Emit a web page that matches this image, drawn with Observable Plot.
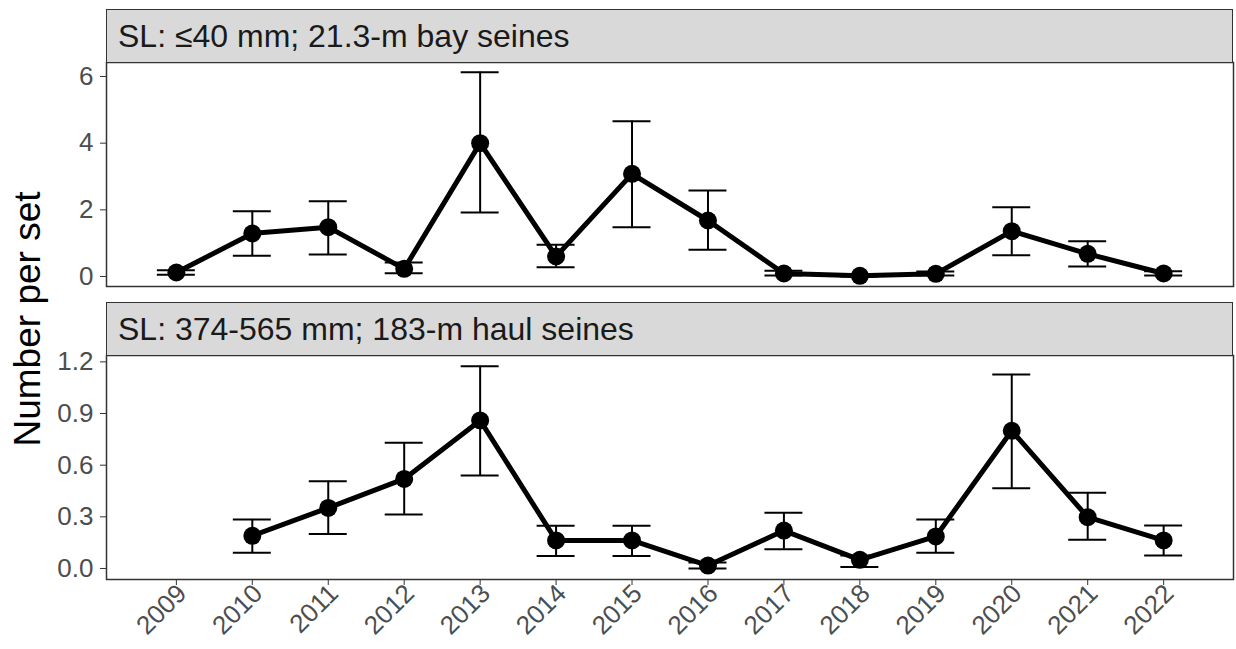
<!DOCTYPE html>
<html>
<head>
<meta charset="utf-8">
<script src="https://cdn.jsdelivr.net/npm/d3@7"></script>
<script src="https://cdn.jsdelivr.net/npm/@observablehq/plot@0.6"></script>
<style>
  html, body { margin: 0; padding: 0; background: #ffffff; }
  #chart { position: relative; width: 1236px; height: 649px; overflow: hidden; font-family: "Liberation Sans", Arial, sans-serif; }
  .panel { position: absolute; left: 0; }
  .strip { position: absolute; background: #d9d9d9; border: 1.5px solid #333333; box-sizing: border-box;
           color: #1a1a1a; font-size: 32px; line-height: 1; display: flex; align-items: center; padding-left: 11px; }
  .ytitle { position: absolute; font-size: 37px; color: #000; white-space: nowrap; transform: translate(-50%, -50%) rotate(-90deg); }
</style>
</head>
<body>
<div id="chart"></div>
<script>
// ---- data ----
const years = [2009, 2010, 2011, 2012, 2013, 2014, 2015, 2016, 2017, 2018, 2019, 2020, 2021, 2022];

const stripSmall = "SL: \u226440 mm; 21.3-m bay seines";
const stripLarge = "SL: 374-565 mm; 183-m haul seines";

const smallMean = [0.12, 1.29, 1.48, 0.23, 4.00, 0.60, 3.08, 1.68, 0.09, 0.02, 0.08, 1.36, 0.68, 0.09];
const smallLow  = [0.05, 0.62, 0.66, 0.10, 1.92, 0.28, 1.48, 0.80, 0.03, 0.00, 0.03, 0.64, 0.30, 0.03];
const smallHigh = [0.19, 1.96, 2.26, 0.42, 6.13, 0.95, 4.66, 2.58, 0.17, 0.05, 0.15, 2.08, 1.06, 0.16];

const largeMean = [null, 0.190, 0.352, 0.520, 0.860, 0.163, 0.163, 0.017, 0.220, 0.050, 0.186, 0.800, 0.298, 0.163];
const largeLow  = [null, 0.091, 0.200, 0.314, 0.540, 0.072, 0.072, 0.000, 0.112, 0.008, 0.091, 0.466, 0.167, 0.075];
const largeHigh = [null, 0.285, 0.507, 0.730, 1.175, 0.248, 0.248, 0.035, 0.323, 0.075, 0.285, 1.127, 0.440, 0.250];

const yTicksSmall = [0, 2, 4, 6];
const yTicksLarge = [0, 0.3, 0.6, 0.9, 1.2];
const yTitle = "Number per set";

// ---- build tables ----
const mk = (mean, lo, hi) => years.map((yr, i) => ({year: yr, mean: mean[i], lo: lo[i], hi: hi[i]})).filter(d => d.mean != null);
const smallData = mk(smallMean, smallLow, smallHigh);
const largeData = mk(largeMean, largeLow, largeHigh);

const xDomain = [2009 - 0.92, 2022 + 0.92];
const capHalf = 0.25;
const axisColor = "#333333";
const tickText = "#4d4d4d";

function panel({data, yDomain, yTicks, height, marginTop, marginBottom, showX, fmt}) {
  const marks = [
    Plot.frame({stroke: axisColor, strokeWidth: 1.5}),
    Plot.axisY({ticks: yTicks, tickSize: 6, tickPadding: 7, fontSize: 26, tickFormat: fmt,
                stroke: axisColor, color: tickText, label: null}),
    Plot.ruleX(data, {x: "year", y1: "lo", y2: "hi", stroke: "#000", strokeWidth: 2}),
    Plot.ruleY(data, {y: "lo", x1: d => d.year - capHalf, x2: d => d.year + capHalf, stroke: "#000", strokeWidth: 2}),
    Plot.ruleY(data, {y: "hi", x1: d => d.year - capHalf, x2: d => d.year + capHalf, stroke: "#000", strokeWidth: 2}),
    Plot.line(data, {x: "year", y: "mean", stroke: "#000", strokeWidth: 5, strokeLinejoin: "round"}),
    Plot.dot(data, {x: "year", y: "mean", r: 9, fill: "#000", stroke: "none"})
  ];
  if (showX) {
    marks.push(Plot.axisX({ticks: years, tickFormat: d => String(d), tickRotate: -45, tickSize: 6,
                           tickPadding: 5, fontSize: 26, stroke: axisColor, color: tickText, label: null}));
  }
  return Plot.plot({
    width: 1236,
    height,
    marginTop,
    marginBottom,
    marginLeft: 106,
    marginRight: 3,
    style: {fontFamily: '"Liberation Sans", Arial, sans-serif', background: "transparent", overflow: "visible"},
    x: showX ? {domain: xDomain} : {domain: xDomain, axis: null},
    y: {domain: yDomain},
    marks
  });
}

const chartEl = document.getElementById("chart");

const topPanel = panel({data: smallData, yDomain: [-0.3, 6.42], yTicks: yTicksSmall, height: 286, marginTop: 62, marginBottom: 0, showX: false, fmt: d3.format("d")});
topPanel.classList.add("panel");
topPanel.style.top = "0px";
chartEl.appendChild(topPanel);

const botPanel = panel({data: largeData, yDomain: [-0.064, 1.237], yTicks: yTicksLarge, height: 359, marginTop: 65, marginBottom: 70, showX: true, fmt: d3.format(".1f")});
botPanel.classList.add("panel");
botPanel.style.top = "290px";
// nudge rotated year labels slightly right/down to match the reference placement
botPanel.querySelectorAll("g[aria-label='x-axis tick label'] text").forEach(el => {
  el.setAttribute("dx", "5");
  el.setAttribute("dy", "3");
});
chartEl.appendChild(botPanel);

function strip(text, topPx, h) {
  const s = document.createElement("div");
  s.className = "strip";
  s.style.left = "106px";
  s.style.top = topPx + "px";
  s.style.width = "1127px";
  s.style.height = h + "px";
  s.textContent = text;
  chartEl.appendChild(s);
}
strip(stripSmall, 9, 54);
strip(stripLarge, 302, 54);

const titleEl = document.createElement("div");
titleEl.className = "ytitle";
titleEl.style.left = "28px";
titleEl.style.top = "319px";
titleEl.textContent = yTitle;
chartEl.appendChild(titleEl);
</script>
</body>
</html>
